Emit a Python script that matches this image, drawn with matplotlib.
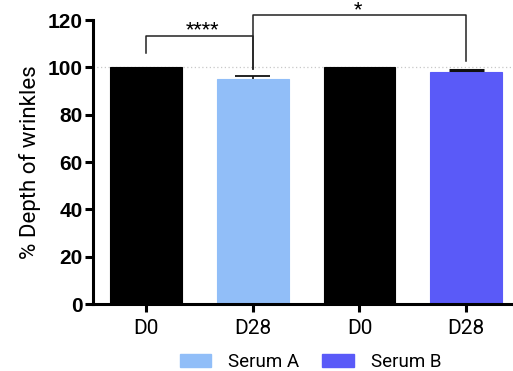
import matplotlib
matplotlib.use("Agg")
import matplotlib.pyplot as plt
from matplotlib.patches import Patch

categories = ["D0", "D28", "D0", "D28"]
means = [100.0, 95.2, 100.0, 98.0]
errors = [0.0, 1.0, 0.0, 1.0]
colors = ["#000000", "#91BEF8", "#000000", "#5A5AF8"]
legend_labels = ["Serum A", "Serum B"]
legend_colors = ["#91BEF8", "#5A5AF8"]
yticks = [0, 20, 40, 60, 80, 100, 120]
sig1 = "****"
sig2 = "*"

plt.rcParams['font.family'] = ['Roboto', 'DejaVu Sans']

fig = plt.figure(figsize=(5.13, 3.71), dpi=100)
ax = fig.add_axes([93/513, 67/371, 420/513, 284/371])

x = list(range(len(categories)))
ax.bar(x, means, width=0.675, color=colors, edgecolor=colors, linewidth=0.8, zorder=2)
cap_half = 0.164
for xi, m, e in zip(x, means, errors):
    if e > 0:
        ax.vlines(xi, m, m + e, color='#111111', linewidth=1.2, zorder=3)
        ax.hlines(m + e, xi - cap_half, xi + cap_half, color='#111111',
                  linewidth=1.3 if xi == 1 else 2.2, zorder=3)

ax.axhline(100, color='#c8c8c8', linestyle=(0, (1, 2)), linewidth=0.9, zorder=1)

ax.set_xlim(-0.5, 3.44)
ax.set_ylim(0, 120)
ax.set_yticks(yticks)
ax.set_yticklabels([str(t) for t in yticks], fontsize=15, fontweight='bold',
                   family=['Liberation Sans', 'DejaVu Sans'])
ax.set_xticks(x)
ax.set_xticklabels(categories, fontsize=15)
ax.set_ylabel("% Depth of wrinkles", fontsize=16, labelpad=5)

for s in ['top', 'right']:
    ax.spines[s].set_visible(False)
for s in ['left', 'bottom']:
    ax.spines[s].set_linewidth(2.2)
ax.tick_params(axis='both', length=5.5, width=2.2, pad=2)
ax.tick_params(axis='x', pad=5)

# significance brackets
bk = dict(color='#222222', linewidth=1.1, clip_on=False, zorder=4)
ax.plot([0, 0, 1, 1], [106, 113.3, 113.3, 99.3], **bk)
ax.text(0.53, 113.8, sig1, ha='center', va='baseline', fontsize=14)
ax.plot([1, 1, 3, 3], [99.3, 122.1, 122.1, 102.5], **bk)
ax.text(1.99, 122.6, sig2, ha='center', va='baseline', fontsize=14, clip_on=False)

handles = [Patch(facecolor=c, edgecolor=c) for c in legend_colors]
fig.legend(handles, legend_labels, loc='lower center', bbox_to_anchor=(0.605, -0.045),
           ncol=2, frameon=False, fontsize=13.5, handlelength=1.7, handleheight=0.72,
           columnspacing=1.2, handletextpad=0.9)

fig.savefig("out.png", dpi=100)
